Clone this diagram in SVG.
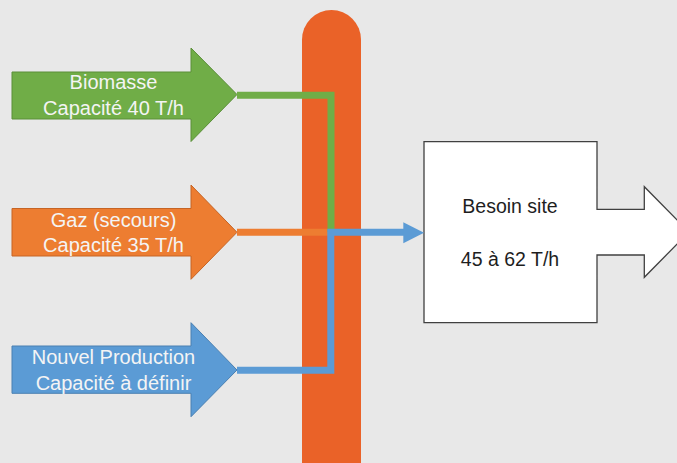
<svg xmlns="http://www.w3.org/2000/svg" width="677" height="463" viewBox="0 0 677 463">
  <style>
    .lbl { font-family: "Liberation Sans", Arial, sans-serif; font-size: 20px; fill: #f4f4f4; text-anchor: middle; }
    .dark { fill: #1e1e1e; font-size: 19.5px; }
    .ln { fill: none; stroke-width: 7; stroke-linejoin: miter; }
  </style>
  <rect x="0" y="0" width="677" height="463" fill="#e8e8e8"/>
  <g id="pipe">
    <path d="M302,463 V39.5 A29.5,29.5 0 0 1 361,39.5 V463 Z" fill="#ea6228"/>
  </g>
  <g id="biomasse">
    <polygon points="12,72 191,72 191,48 237,94.5 191,141.5 191,119 12,119" fill="#70ad47" stroke="#5a8f38" stroke-width="1"/>
    <text class="lbl" x="113.5" y="89.3">Biomasse</text>
    <text class="lbl" x="113.5" y="115">Capacité 40 T/h</text>
  </g>
  <g id="gaz">
    <polygon points="12,208.5 191,208.5 191,185 237,232.3 191,279.3 191,256 12,256" fill="#ed7d31" stroke="#c66425" stroke-width="1"/>
    <text class="lbl" x="113.5" y="226.7">Gaz (secours)</text>
    <text class="lbl" x="113.5" y="252.3">Capacité 35 T/h</text>
  </g>
  <g id="nouvel">
    <polygon points="12,346 191,346 191,322.7 237,370 191,416.7 191,393.3 12,393.3" fill="#5b9bd5" stroke="#4a80b2" stroke-width="1"/>
    <text class="lbl" x="113.5" y="364">Nouvel Production</text>
    <text class="lbl" x="113.5" y="390">Capacité à définir</text>
  </g>
  <g id="besoin">
    <path d="M424,141.7 H597 V209.3 H644.3 V186.7 L689,232 L644.3,277.3 V255 H597 V322.7 H424 Z" fill="#ffffff" stroke="#404040" stroke-width="1.3"/>
    <text class="lbl dark" x="510" y="212.7">Besoin site</text>
    <text class="lbl dark" x="510" y="265.7">45 à 62 T/h</text>
  </g>
  <g id="connectors">
    <path class="ln" d="M237,232.3 H331" stroke="#ed7d31"/>
    <path class="ln" d="M237,95.3 H331 V232" stroke="#70ad47"/>
    <path class="ln" d="M237,370.3 H330.8 V232.3 H405" stroke="#5b9bd5"/>
    <polygon points="403.3,222.3 424,232.8 403.3,243.3" fill="#5b9bd5"/>
  </g>
</svg>
